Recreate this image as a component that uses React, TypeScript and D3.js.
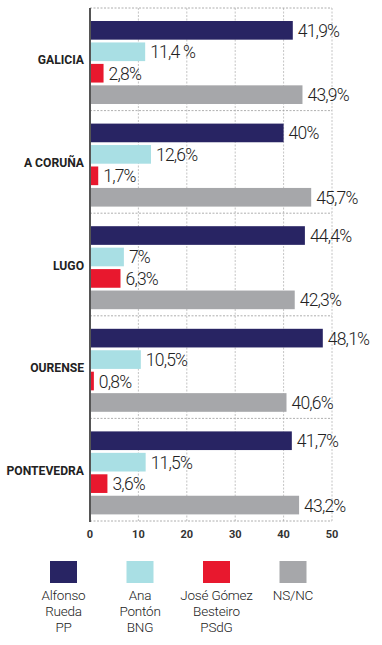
import React from "react";
import * as d3 from "d3";

const categories = ["GALICIA", "A CORUÑA", "LUGO", "OURENSE", "PONTEVEDRA"];
const seriesNames = ["PP", "BNG", "PSdG", "NS/NC"];
const ppValues = [41.9, 40, 44.4, 48.1, 41.7];
const bngValues = [11.4, 12.6, 7, 10.5, 11.5];
const psdgValues = [2.8, 1.7, 6.3, 0.8, 3.6];
const nsncValues = [43.9, 45.7, 42.3, 40.6, 43.2];
const ppLabels = ["41,9%", "40%", "44,4%", "48,1%", "41,7%"];
const bngLabels = ["11,4 %", "12,6%", "7%", "10,5%", "11,5%"];
const psdgLabels = ["2,8%", "1,7%", "6,3%", "0,8%", "3,6%"];
const nsncLabels = ["43,9%", "45,7%", "42,3%", "40,6%", "43,2%"];
const xTicks = [0, 10, 20, 30, 40, 50];
const legendLabels = [
  ["Alfonso", "Rueda", "PP"],
  ["Ana", "Pontón", "BNG"],
  ["José Gómez", "Besteiro", "PSdG"],
  ["NS/NC"],
];
const colors = ["#282463", "#a9dfe4", "#e8182e", "#a6a7aa"];

const values = [ppValues, bngValues, psdgValues, nsncValues];
const labels = [ppLabels, bngLabels, psdgLabels, nsncLabels];

export default function App() {
  const W = 382, H = 645;
  const x = d3.scaleLinear().domain([0, 50]).range([90, 332]);
  const y0 = d3.scaleBand().domain(categories).range([8, 521]);
  const y1 = d3.scaleBand().domain(seriesNames).range([13, 13 + 83]).paddingInner(0.13);
  const legendX = d3.scalePoint().domain(seriesNames).range([63.5, 293]);

  return (
    <svg width={W} height={H} style={{ position: "absolute", left: 0, top: 0, background: "#fff" }}>
      {xTicks.slice(1).map((t) => (
        <line key={"g" + t} x1={x(t)} x2={x(t)} y1={8} y2={521} stroke="#b5b5b5" strokeWidth={0.8} strokeDasharray="2,1.5" />
      ))}
      {categories.map((c) => (
        <line key={"s" + c} x1={90} x2={332} y1={y0(c)!} y2={y0(c)!} stroke="#9a9a9a" strokeWidth={0.8} strokeDasharray="2,1.5" />
      ))}
      <line x1={90} x2={332} y1={521} y2={521} stroke="#9a9a9a" strokeWidth={0.8} strokeDasharray="2,1.5" />
      {categories.map((c, ci) => (
        <g key={c} transform={`translate(0,${y0(c)})`}>
          {seriesNames.map((s, si) => {
            const v = values[si][ci];
            const yy = y1(s)!;
            return (
              <g key={s}>
                <rect x={x(0)} y={yy} width={x(v) - x(0)} height={y1.bandwidth()} fill={colors[si]} />
                <text x={x(v) + 5} y={yy + y1.bandwidth() / 2 + 6.5} fontFamily="Roboto" fontWeight={300} fontSize={17.5} fill="#222" style={{ letterSpacing: "-0.8px" }}>
                  {labels[si][ci]}
                </text>
              </g>
            );
          })}
          <g transform={`translate(84,${y0.bandwidth() / 2 + 5}) scale(0.9,1)`}>
            <text x={0} y={0} textAnchor="end" fontFamily="Roboto" fontWeight={700} fontSize={13.5} fill="#222">
              {c}
            </text>
          </g>
        </g>
      ))}
      <line x1={90} x2={90} y1={8} y2={522} stroke="#555" strokeWidth={2} />
      {xTicks.map((t) => (
        <text key={"t" + t} x={x(t)} y={538} textAnchor="middle" fontFamily="Roboto" fontWeight={700} fontSize={11} fill="#333">
          {t}
        </text>
      ))}
      {seriesNames.map((s, si) => (
        <g key={"l" + s}>
          <rect x={legendX(s)! - 13.5} y={561} width={27} height={22} fill={colors[si]} />
          {legendLabels[si].map((line, li) => (
            <text key={li} x={legendX(s)!} y={600 + li * 16} textAnchor="middle" fontFamily="Roboto" fontWeight={300} fontSize={13.5} fill="#222" style={{ letterSpacing: "-0.2px" }}>
              {line}
            </text>
          ))}
        </g>
      ))}
    </svg>
  );
}
